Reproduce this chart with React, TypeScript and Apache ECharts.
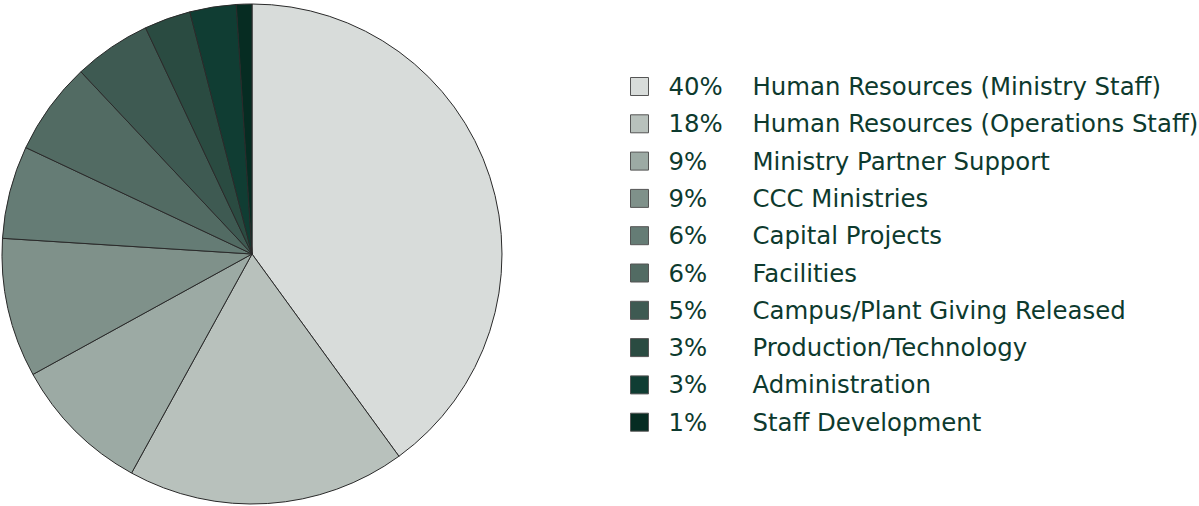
import React, { useEffect, useRef } from "react";
import * as echarts from "echarts";

const categories = [
  "Human Resources (Ministry Staff)",
  "Human Resources (Operations Staff)",
  "Ministry Partner Support",
  "CCC Ministries",
  "Capital Projects",
  "Facilities",
  "Campus/Plant Giving Released",
  "Production/Technology",
  "Administration",
  "Staff Development",
];
const values = [40, 18, 9, 9, 6, 6, 5, 3, 3, 1];
const colors = [
  "#d8dcda",
  "#b8c1bc",
  "#9caaa4",
  "#7f918a",
  "#657c75",
  "#526b63",
  "#3e5a52",
  "#2a4b41",
  "#103d33",
  "#062c22",
];

export default function App() {
  const ref = useRef<HTMLDivElement>(null);
  useEffect(() => {
    document.body.style.margin = "0";
    if (!ref.current) return;
    const chart = echarts.init(ref.current, undefined, { renderer: "svg" });
    const pct: Record<string, number> = {};
    categories.forEach((c, i) => (pct[c] = values[i]));
    const font = "DejaVu Sans";
    chart.setOption({
      animation: false,
      color: colors,
      legend: {
        orient: "vertical",
        left: 630,
        top: 74.5,
        padding: 0,
        itemWidth: 18,
        itemHeight: 18,
        itemGap: 13.3,
        icon: "rect",
        itemStyle: { borderColor: "#555", borderWidth: 1 },
        formatter: (name: string) => `{p|${pct[name]}%}{n|${name}}`,
        textStyle: {
          padding: [0, 0, 0, 15],
          lineHeight: 18,
          rich: {
            p: { width: 84, fontSize: 24.4, lineHeight: 18, color: "#0d3a2e", fontFamily: font },
            n: { fontSize: 24.4, lineHeight: 18, color: "#0d3a2e", fontFamily: font },
          },
        },
        selectedMode: false,
      },
      series: [
        {
          type: "pie",
          center: [252, 254],
          radius: [0, 250],
          startAngle: 90,
          clockwise: true,
          label: { show: false },
          labelLine: { show: false },
          emphasis: { disabled: true },
          itemStyle: { borderColor: "#2a2a2a", borderWidth: 1 },
          data: categories.map((c, i) => ({ name: c, value: values[i] })),
        },
      ],
    });
    return () => chart.dispose();
  }, []);
  return <div ref={ref} style={{ width: 1199, height: 506 }} />;
}
